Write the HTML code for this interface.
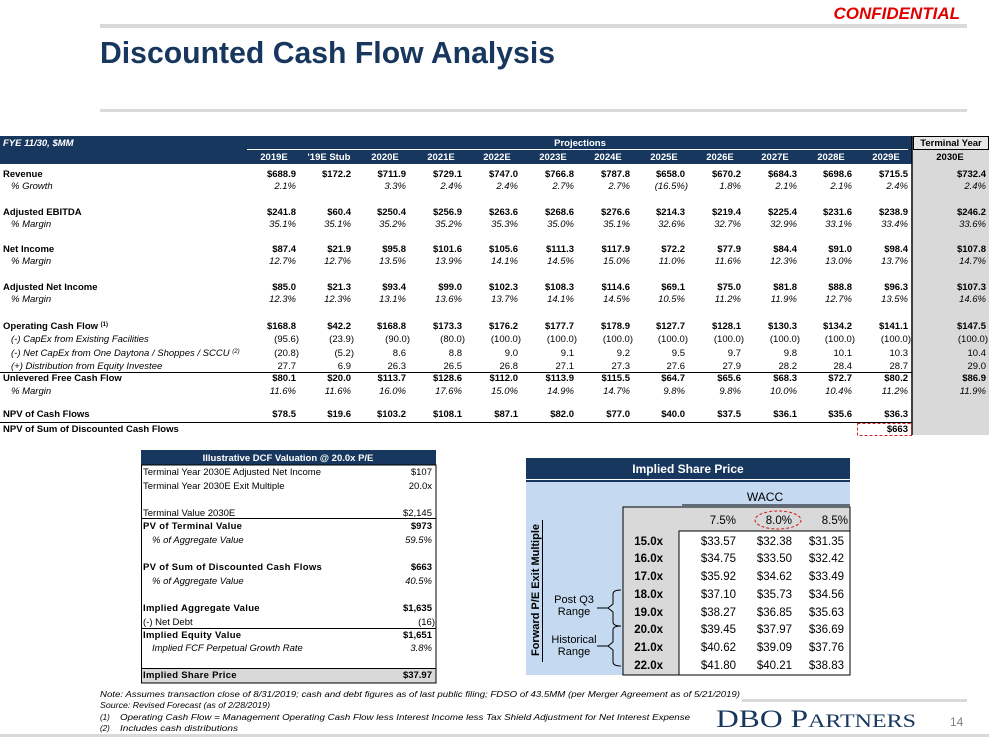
<!DOCTYPE html>
<html><head><meta charset="utf-8"><style>
body{margin:0;background:#fff;}
svg{display:block;font-family:"Liberation Sans",Arial,sans-serif;}
.b{font-weight:bold;font-size:9.5px;}
.i{font-style:italic;font-size:9.5px;}
.n{font-size:9.5px;}
.w{fill:#fff;font-weight:bold;font-size:9.5px;}
.r text{text-anchor:end;}
</style></head><body>
<svg width="989" height="738" viewBox="0 0 989 738">
<!-- header -->
<text x="960" y="19" text-anchor="end" fill="#e00000" font-weight="bold" font-style="italic" font-size="17">CONFIDENTIAL</text>
<rect x="100" y="24" width="867" height="4" fill="#d9d9d9"/>
<text x="100" y="63" fill="#17375e" font-weight="bold" font-size="31" textLength="455" lengthAdjust="spacingAndGlyphs">Discounted Cash Flow Analysis</text>
<rect x="100" y="109" width="867" height="3" fill="#d9d9d9"/>

<!-- main table header -->
<rect x="0" y="136" width="912" height="28" fill="#17375e"/>
<rect x="913" y="136" width="76" height="299" fill="#d9d9d9"/>
<rect x="913.5" y="136.5" width="75" height="13" fill="#e6e6e6" stroke="#000" stroke-width="1"/>
<line x1="912" y1="136" x2="912" y2="435" stroke="#000" stroke-width="1.5"/>
<line x1="247" y1="149.5" x2="908" y2="149.5" stroke="#fff" stroke-width="1"/>
<text x="3" y="146" class="w" font-style="italic">FYE 11/30, $MM</text>
<text x="580" y="146" class="w" text-anchor="middle">Projections</text>
<text x="951" y="146" class="b" text-anchor="middle" font-size="9.5">Terminal Year</text>
<g class="w" text-anchor="middle">
<text x="274" y="160">2019E</text><text x="329" y="160">'19E Stub</text><text x="385" y="160">2020E</text><text x="441" y="160">2021E</text><text x="497" y="160">2022E</text><text x="553" y="160">2023E</text><text x="608" y="160">2024E</text><text x="664" y="160">2025E</text><text x="720" y="160">2026E</text><text x="775" y="160">2027E</text><text x="831" y="160">2028E</text><text x="886" y="160">2029E</text>
</g>
<text x="950" y="160" class="b" text-anchor="middle">2030E</text>

<!-- labels -->
<g class="b">
<text x="3" y="177">Revenue</text><text x="3" y="215">Adjusted EBITDA</text><text x="3" y="252">Net Income</text><text x="3" y="290">Adjusted Net Income</text>
<text x="3" y="329">Operating Cash Flow <tspan font-size="6" dy="-3">(1)</tspan></text>
<text x="3" y="381">Unlevered Free Cash Flow</text><text x="3" y="417">NPV of Cash Flows</text><text x="3" y="432">NPV of Sum of Discounted Cash Flows</text>
</g>
<g class="i">
<text x="11" y="189">% Growth</text><text x="11" y="227">% Margin</text><text x="11" y="264">% Margin</text><text x="11" y="302">% Margin</text>
<text x="11" y="342">(-) CapEx from Existing Facilities</text>
<text x="11" y="356">(-) Net CapEx from One Daytona / Shoppes / SCCU <tspan font-size="6" dy="-3">(2)</tspan></text>
<text x="11" y="369">(+) Distribution from Equity Investee</text>
<text x="11" y="394">% Margin</text>
</g>
<line x1="0" y1="372.5" x2="912" y2="372.5" stroke="#000"/>
<line x1="0" y1="422.5" x2="912" y2="422.5" stroke="#000"/>

<g class="r">
<g class="b">
<text x="296" y="177">$688.9</text><text x="351" y="177">$172.2</text><text x="406" y="177">$711.9</text><text x="462" y="177">$729.1</text><text x="518" y="177">$747.0</text><text x="574" y="177">$766.8</text><text x="630" y="177">$787.8</text><text x="685" y="177">$658.0</text><text x="741" y="177">$670.2</text><text x="797" y="177">$684.3</text><text x="852" y="177">$698.6</text><text x="908" y="177">$715.5</text><text x="986" y="177">$732.4</text>
<text x="296" y="215">$241.8</text><text x="351" y="215">$60.4</text><text x="406" y="215">$250.4</text><text x="462" y="215">$256.9</text><text x="518" y="215">$263.6</text><text x="574" y="215">$268.6</text><text x="630" y="215">$276.6</text><text x="685" y="215">$214.3</text><text x="741" y="215">$219.4</text><text x="797" y="215">$225.4</text><text x="852" y="215">$231.6</text><text x="908" y="215">$238.9</text><text x="986" y="215">$246.2</text>
<text x="296" y="252">$87.4</text><text x="351" y="252">$21.9</text><text x="406" y="252">$95.8</text><text x="462" y="252">$101.6</text><text x="518" y="252">$105.6</text><text x="574" y="252">$111.3</text><text x="630" y="252">$117.9</text><text x="685" y="252">$72.2</text><text x="741" y="252">$77.9</text><text x="797" y="252">$84.4</text><text x="852" y="252">$91.0</text><text x="908" y="252">$98.4</text><text x="986" y="252">$107.8</text>
<text x="296" y="290">$85.0</text><text x="351" y="290">$21.3</text><text x="406" y="290">$93.4</text><text x="462" y="290">$99.0</text><text x="518" y="290">$102.3</text><text x="574" y="290">$108.3</text><text x="630" y="290">$114.6</text><text x="685" y="290">$69.1</text><text x="741" y="290">$75.0</text><text x="797" y="290">$81.8</text><text x="852" y="290">$88.8</text><text x="908" y="290">$96.3</text><text x="986" y="290">$107.3</text>
<text x="296" y="329">$168.8</text><text x="351" y="329">$42.2</text><text x="406" y="329">$168.8</text><text x="462" y="329">$173.3</text><text x="518" y="329">$176.2</text><text x="574" y="329">$177.7</text><text x="630" y="329">$178.9</text><text x="685" y="329">$127.7</text><text x="741" y="329">$128.1</text><text x="797" y="329">$130.3</text><text x="852" y="329">$134.2</text><text x="908" y="329">$141.1</text><text x="986" y="329">$147.5</text>
<text x="296" y="381">$80.1</text><text x="351" y="381">$20.0</text><text x="406" y="381">$113.7</text><text x="462" y="381">$128.6</text><text x="518" y="381">$112.0</text><text x="574" y="381">$113.9</text><text x="630" y="381">$115.5</text><text x="685" y="381">$64.7</text><text x="741" y="381">$65.6</text><text x="797" y="381">$68.3</text><text x="852" y="381">$72.7</text><text x="908" y="381">$80.2</text><text x="986" y="381">$86.9</text>
<text x="296" y="417">$78.5</text><text x="351" y="417">$19.6</text><text x="406" y="417">$103.2</text><text x="462" y="417">$108.1</text><text x="518" y="417">$87.1</text><text x="574" y="417">$82.0</text><text x="630" y="417">$77.0</text><text x="685" y="417">$40.0</text><text x="741" y="417">$37.5</text><text x="797" y="417">$36.1</text><text x="852" y="417">$35.6</text><text x="908" y="417">$36.3</text>
<text x="908" y="432">$663</text>
</g>
<g class="i">
<text x="296" y="189">2.1%</text><text x="406" y="189">3.3%</text><text x="462" y="189">2.4%</text><text x="518" y="189">2.4%</text><text x="574" y="189">2.7%</text><text x="630" y="189">2.7%</text><text x="688" y="189">(16.5%)</text><text x="741" y="189">1.8%</text><text x="797" y="189">2.1%</text><text x="852" y="189">2.1%</text><text x="908" y="189">2.4%</text><text x="986" y="189">2.4%</text>
<text x="296" y="227">35.1%</text><text x="351" y="227">35.1%</text><text x="406" y="227">35.2%</text><text x="462" y="227">35.2%</text><text x="518" y="227">35.3%</text><text x="574" y="227">35.0%</text><text x="630" y="227">35.1%</text><text x="685" y="227">32.6%</text><text x="741" y="227">32.7%</text><text x="797" y="227">32.9%</text><text x="852" y="227">33.1%</text><text x="908" y="227">33.4%</text><text x="986" y="227">33.6%</text>
<text x="296" y="264">12.7%</text><text x="351" y="264">12.7%</text><text x="406" y="264">13.5%</text><text x="462" y="264">13.9%</text><text x="518" y="264">14.1%</text><text x="574" y="264">14.5%</text><text x="630" y="264">15.0%</text><text x="685" y="264">11.0%</text><text x="741" y="264">11.6%</text><text x="797" y="264">12.3%</text><text x="852" y="264">13.0%</text><text x="908" y="264">13.7%</text><text x="986" y="264">14.7%</text>
<text x="296" y="302">12.3%</text><text x="351" y="302">12.3%</text><text x="406" y="302">13.1%</text><text x="462" y="302">13.6%</text><text x="518" y="302">13.7%</text><text x="574" y="302">14.1%</text><text x="630" y="302">14.5%</text><text x="685" y="302">10.5%</text><text x="741" y="302">11.2%</text><text x="797" y="302">11.9%</text><text x="852" y="302">12.7%</text><text x="908" y="302">13.5%</text><text x="986" y="302">14.6%</text>
<text x="296" y="394">11.6%</text><text x="351" y="394">11.6%</text><text x="406" y="394">16.0%</text><text x="462" y="394">17.6%</text><text x="518" y="394">15.0%</text><text x="574" y="394">14.9%</text><text x="630" y="394">14.7%</text><text x="685" y="394">9.8%</text><text x="741" y="394">9.8%</text><text x="797" y="394">10.0%</text><text x="852" y="394">10.4%</text><text x="908" y="394">11.2%</text><text x="986" y="394">11.9%</text>
</g>
<g class="n">
<text x="299" y="342">(95.6)</text><text x="354" y="342">(23.9)</text><text x="410" y="342">(90.0)</text><text x="465" y="342">(80.0)</text><text x="521" y="342">(100.0)</text><text x="577" y="342">(100.0)</text><text x="633" y="342">(100.0)</text><text x="688" y="342">(100.0)</text><text x="744" y="342">(100.0)</text><text x="800" y="342">(100.0)</text><text x="855" y="342">(100.0)</text><text x="911" y="342">(100.0)</text><text x="988" y="342">(100.0)</text>
<text x="299" y="356">(20.8)</text><text x="354" y="356">(5.2)</text><text x="406" y="356">8.6</text><text x="462" y="356">8.8</text><text x="518" y="356">9.0</text><text x="574" y="356">9.1</text><text x="630" y="356">9.2</text><text x="685" y="356">9.5</text><text x="741" y="356">9.7</text><text x="797" y="356">9.8</text><text x="852" y="356">10.1</text><text x="908" y="356">10.3</text><text x="986" y="356">10.4</text>
<text x="296" y="369">27.7</text><text x="351" y="369">6.9</text><text x="406" y="369">26.3</text><text x="462" y="369">26.5</text><text x="518" y="369">26.8</text><text x="574" y="369">27.1</text><text x="630" y="369">27.3</text><text x="685" y="369">27.6</text><text x="741" y="369">27.9</text><text x="797" y="369">28.2</text><text x="852" y="369">28.4</text><text x="908" y="369">28.7</text><text x="986" y="369">29.0</text>
</g>
</g>
<rect x="857.5" y="423.5" width="54" height="12" fill="none" stroke="#d02020" stroke-dasharray="3,2"/>

<!-- DCF valuation box -->
<rect x="141" y="450" width="295" height="15" fill="#17375e"/>
<text x="288" y="461" class="w" text-anchor="middle">Illustrative DCF Valuation @ 20.0x P/E</text>
<rect x="141" y="668" width="295" height="15" fill="#d9d9d9"/>
<rect x="141.5" y="465" width="294.5" height="218" fill="none" stroke="#000"/>
<line x1="141" y1="518.5" x2="436" y2="518.5" stroke="#000"/>
<line x1="141" y1="628.5" x2="436" y2="628.5" stroke="#000"/>
<line x1="141" y1="668.5" x2="436" y2="668.5" stroke="#000"/>
<g font-size="9.5">
<text x="143" y="475">Terminal Year 2030E Adjusted Net Income</text>
<text x="143" y="489">Terminal Year 2030E Exit Multiple</text>
<text x="143" y="516">Terminal Value 2030E</text>
<text x="143" y="625">(-) Net Debt</text>
</g>
<g class="b" letter-spacing="0.3">
<text x="143" y="529">PV of Terminal Value</text>
<text x="143" y="570">PV of Sum of Discounted Cash Flows</text>
<text x="143" y="611">Implied Aggregate Value</text>
<text x="143" y="638">Implied Equity Value</text>
<text x="143" y="678">Implied Share Price</text>
</g>
<g class="i">
<text x="152" y="543">% of Aggregate Value</text>
<text x="152" y="584">% of Aggregate Value</text>
<text x="152" y="651">Implied FCF Perpetual Growth Rate</text>
</g>
<g text-anchor="end" font-size="9.5">
<text x="432" y="475">$107</text><text x="432" y="489">20.0x</text><text x="432" y="516">$2,145</text><text x="435" y="625">(16)</text>
<text x="432" y="529" font-weight="bold">$973</text><text x="432" y="543" font-style="italic">59.5%</text>
<text x="432" y="570" font-weight="bold">$663</text><text x="432" y="584" font-style="italic">40.5%</text>
<text x="432" y="611" font-weight="bold">$1,635</text><text x="432" y="638" font-weight="bold">$1,651</text>
<text x="432" y="651" font-style="italic">3.8%</text><text x="432" y="678" font-weight="bold">$37.97</text>
</g>

<!-- Implied share price box -->
<rect x="526" y="458" width="324" height="217" fill="#c5d9f1"/>
<rect x="526" y="458" width="324" height="24" fill="#17375e"/>
<line x1="526" y1="479.5" x2="850" y2="479.5" stroke="#fff"/>
<text x="688" y="473" fill="#fff" font-weight="bold" font-size="12" text-anchor="middle">Implied Share Price</text>
<text x="765" y="501" font-size="12" text-anchor="middle">WACC</text>
<line x1="682" y1="505" x2="850" y2="505" stroke="#000"/>
<rect x="623" y="507" width="227" height="168" fill="#d9d9d9" stroke="#000"/>
<rect x="679" y="531" width="171" height="144" fill="#fff" stroke="#000"/>
<g font-size="11.5" text-anchor="end">
<text x="736" y="524">7.5%</text><text x="792" y="524">8.0%</text><text x="848" y="524">8.5%</text>
</g>
<ellipse cx="778" cy="520" rx="23" ry="9" fill="none" stroke="#d02020" stroke-dasharray="3,2"/>
<g font-size="11.5" font-weight="bold" text-anchor="end">
<text x="663" y="545">15.0x</text><text x="663" y="562">16.0x</text><text x="663" y="580">17.0x</text><text x="663" y="598">18.0x</text><text x="663" y="616">19.0x</text><text x="663" y="633">20.0x</text><text x="663" y="651">21.0x</text><text x="663" y="669">22.0x</text>
</g>
<g font-size="11.5" text-anchor="end">
<text x="736" y="545">$33.57</text><text x="792" y="545">$32.38</text><text x="844" y="545">$31.35</text>
<text x="736" y="562">$34.75</text><text x="792" y="562">$33.50</text><text x="844" y="562">$32.42</text>
<text x="736" y="580">$35.92</text><text x="792" y="580">$34.62</text><text x="844" y="580">$33.49</text>
<text x="736" y="598">$37.10</text><text x="792" y="598">$35.73</text><text x="844" y="598">$34.56</text>
<text x="736" y="616">$38.27</text><text x="792" y="616">$36.85</text><text x="844" y="616">$35.63</text>
<text x="736" y="633">$39.45</text><text x="792" y="633">$37.97</text><text x="844" y="633">$36.69</text>
<text x="736" y="651">$40.62</text><text x="792" y="651">$39.09</text><text x="844" y="651">$37.76</text>
<text x="736" y="669">$41.80</text><text x="792" y="669">$40.21</text><text x="844" y="669">$38.83</text>
</g>
<text transform="translate(539,590) rotate(-90)" font-size="11" font-weight="bold" text-anchor="middle">Forward P/E Exit Multiple</text>
<line x1="542.5" y1="520" x2="542.5" y2="662" stroke="#000"/>
<g font-size="11" text-anchor="middle">
<text x="574" y="603">Post Q3</text><text x="574" y="615">Range</text>
<text x="574" y="643">Historical</text><text x="574" y="655">Range</text>
</g>
<path d="M621 590 q-8 0 -8 4 v10 l-5 4 l5 4 v10 q0 4 8 4" fill="none" stroke="#000"/>
<path d="M621 626 q-8 0 -8 4 v12 l-5 4 l5 4 v12 q0 4 8 4" fill="none" stroke="#000"/>
<line x1="597" y1="608" x2="608" y2="608" stroke="#000"/>
<line x1="597" y1="646" x2="608" y2="646" stroke="#000"/>

<!-- footnotes -->
<rect x="742" y="699" width="225" height="3" fill="#d9d9d9"/>
<rect x="0" y="734" width="989" height="3" fill="#d9d9d9"/>
<g font-size="8" font-style="italic">
<text x="100" y="697" textLength="640" lengthAdjust="spacingAndGlyphs">Note: Assumes transaction close of 8/31/2019; cash and debt figures as of last public filing; FDSO of 43.5MM (per Merger Agreement as of 5/21/2019)</text>
<text x="100" y="708" textLength="170" lengthAdjust="spacingAndGlyphs">Source: Revised Forecast (as of 2/28/2019)</text>
<text x="100" y="720">(1)</text><text x="120" y="720" textLength="570" lengthAdjust="spacingAndGlyphs">Operating Cash Flow = Management Operating Cash Flow less Interest Income less Tax Shield Adjustment for Net Interest Expense</text>
<text x="100" y="731">(2)</text><text x="120" y="731" textLength="118" lengthAdjust="spacingAndGlyphs">Includes cash distributions</text>
</g>
<text x="716" y="727" font-family="Liberation Serif,serif" fill="#17375e" font-size="25" textLength="200" lengthAdjust="spacingAndGlyphs">DBO P<tspan font-size="19">ARTNERS</tspan></text>
<text x="950" y="726" font-size="12" fill="#808080">14</text>
</svg>
</body></html>
